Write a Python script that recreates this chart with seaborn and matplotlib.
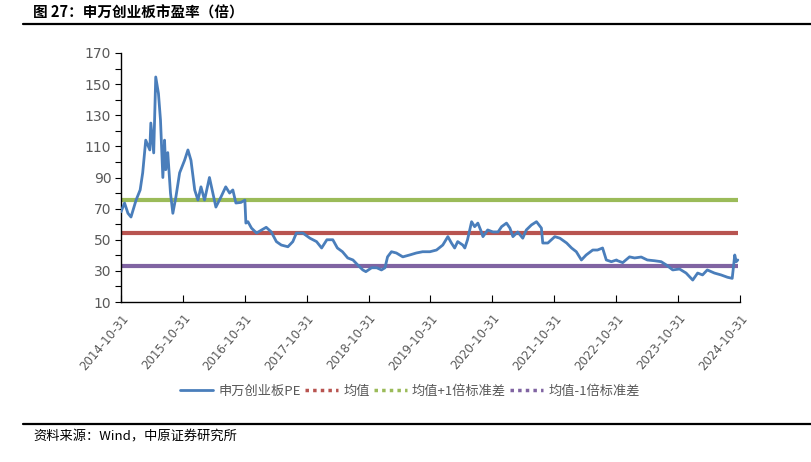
import matplotlib
matplotlib.use("Agg")
import matplotlib.pyplot as plt
from matplotlib.lines import Line2D
import seaborn as sns
import pandas as pd

dates = [
    "2014-10-31", "2014-11-21", "2014-12-11", "2014-12-29", "2015-01-28", "2015-02-21",
    "2015-03-08", "2015-03-26", "2015-04-19", "2015-04-25", "2015-05-12", "2015-05-24",
    "2015-06-09", "2015-06-21", "2015-07-05", "2015-07-15", "2015-07-22", "2015-08-03",
    "2015-08-19", "2015-09-02", "2015-09-20", "2015-10-12", "2015-11-10", "2015-11-30",
    "2015-12-18", "2016-01-09", "2016-01-28", "2016-02-15", "2016-03-07", "2016-04-05",
    "2016-04-25", "2016-05-13", "2016-06-12", "2016-07-10", "2016-08-02", "2016-08-21",
    "2016-09-08", "2016-10-08", "2016-10-31", "2016-11-06", "2016-11-18", "2016-12-09",
    "2017-01-08", "2017-02-07", "2017-03-06", "2017-04-05", "2017-05-05", "2017-06-03",
    "2017-07-12", "2017-08-10", "2017-08-31", "2017-10-08", "2017-11-19", "2017-12-28",
    "2018-01-27", "2018-02-27", "2018-04-03", "2018-04-30", "2018-05-30", "2018-06-30",
    "2018-07-31", "2018-08-28", "2018-09-27", "2018-10-15", "2018-11-18", "2018-12-18",
    "2019-01-15", "2019-02-05", "2019-02-20", "2019-03-15", "2019-04-13", "2019-05-21",
    "2019-06-30", "2019-08-09", "2019-09-15", "2019-10-28", "2019-12-06", "2020-01-12",
    "2020-02-11", "2020-03-03", "2020-03-22", "2020-04-09", "2020-05-09", "2020-05-21",
    "2020-06-06", "2020-06-30", "2020-07-18", "2020-08-06", "2020-08-27", "2020-09-05",
    "2020-10-03", "2020-11-03", "2020-12-03", "2020-12-24", "2021-01-22", "2021-02-11",
    "2021-03-01", "2021-03-29", "2021-04-28", "2021-05-19", "2021-06-18", "2021-07-18",
    "2021-08-16", "2021-08-24", "2021-09-23", "2021-11-03", "2021-12-03", "2022-01-12",
    "2022-02-10", "2022-03-10", "2022-04-09", "2022-05-07", "2022-06-15", "2022-07-13",
    "2022-08-12", "2022-09-03", "2022-10-03", "2022-11-02", "2022-11-09", "2022-12-09",
    "2023-01-18", "2023-02-17", "2023-03-28", "2023-05-03", "2023-06-15", "2023-07-24",
    "2023-08-23", "2023-09-30", "2023-11-09", "2023-12-18", "2024-01-26", "2024-02-24",
    "2024-03-24", "2024-04-21", "2024-06-02", "2024-07-11", "2024-08-18", "2024-09-15",
    "2024-09-30", "2024-10-09", "2024-10-18",
]
pe_values = [
    68, 73.6, 67, 64.6, 75.5, 82,
    93, 114, 107.7, 125, 105.8, 154.6,
    144, 127, 90, 114, 95, 106,
    80, 67, 77.5, 93, 101, 107.7,
    101, 82, 75.5, 84, 75.5, 90,
    80, 71, 77.5, 84, 80, 82,
    73.6, 74, 75.5, 60.7, 61.6, 57.5,
    54.3, 56.3, 58, 55, 48.8, 46.6,
    45.5, 48.8, 54.3, 54.3, 51, 48.8,
    44.7, 50, 50, 44.7, 42.3, 38.3,
    37, 33.8, 30.6, 29.5, 32, 32,
    30.6, 32, 39, 42.3, 41.5, 39,
    40.2, 41.5, 42.3, 42.3, 43.4, 46.6,
    52, 47.9, 44.7, 48.8, 46.6, 44.7,
    50, 61.6, 58.4, 60.7, 55, 52,
    56.3, 55, 55, 58.4, 60.7, 57.5,
    52, 55, 51, 56.3, 59.5, 61.6,
    57.5, 47.9, 47.9, 52, 51, 47.9,
    44.7, 42.3, 37, 40.2, 43.4, 43.4,
    44.7, 37, 35.9, 37, 36.5, 35.3,
    39, 38.3, 38.9, 37, 36.5, 35.9,
    33.8, 30.6, 31.2, 28.6, 24.1, 28.6,
    27.4, 30.6, 28.6, 27.4, 25.9, 25.2,
    40.2, 35.9, 37,
]
mean_value = 54.4
std_value = 21.1
tick_dates = ["2014-10-31", "2015-10-31", "2016-10-31", "2017-10-31", "2018-10-31",
              "2019-10-31", "2020-10-31", "2021-10-31", "2022-10-31", "2023-10-31",
              "2024-10-31"]
y_ticks = [10, 30, 50, 70, 90, 110, 130, 150, 170]
series_labels = ["申万创业板PE", "均值", "均值+1倍标准差", "均值-1倍标准差"]
title_text = "图 27：申万创业板市盈率（倍）"
source_text = "资料来源：Wind，中原证券研究所"

sns.set_theme(style="white")
plt.rcParams["font.family"] = ["Noto Sans CJK SC", "DejaVu Sans"]
plt.rcParams["axes.unicode_minus"] = False

c_pe = "#4a7ebb"
c_mean = "#b85450"
c_plus = "#9bbb59"
c_minus = "#8064a2"
gray = "#595959"

df = pd.DataFrame({"date": pd.to_datetime(dates), "pe": pe_values})
tick_dt = pd.to_datetime(tick_dates)

fig = plt.figure(figsize=(8.12, 4.62), dpi=100)
ax = fig.add_axes([121 / 812, 1 - 302 / 462, (740 - 121) / 812, (302 - 53) / 462])

lvl = [mean_value, mean_value + std_value, mean_value - std_value]
for val, col in zip(lvl, [c_mean, c_plus, c_minus]):
    ax.plot([tick_dt[0], df["date"].iloc[-1]], [val, val], color=col, lw=3.0,
            solid_capstyle="butt", zorder=2)
sns.lineplot(data=df, x="date", y="pe", ax=ax, color=c_pe, lw=2.0, zorder=3)

ax.set_xlim(tick_dt[0], tick_dt[-1])
ax.set_ylim(y_ticks[0], y_ticks[-1])
ax.set_yticks(y_ticks)
ax.set_yticks(list(range(y_ticks[0], y_ticks[-1] + 1, 10)), minor=True)
ax.set_xticks(tick_dt)
ax.set_xticklabels(tick_dates, rotation=50, ha="right", rotation_mode="anchor",
                   fontsize=8.5, color=gray, family="DejaVu Sans")
for lab in ax.get_yticklabels():
    lab.set_fontsize(10)
    lab.set_color(gray)
    lab.set_family("DejaVu Sans")
ax.set_xlabel("")
ax.set_ylabel("")
for s in ["top", "right"]:
    ax.spines[s].set_visible(False)
for s in ["left", "bottom"]:
    ax.spines[s].set_color("#000000")
    ax.spines[s].set_linewidth(1.0)
ax.tick_params(axis="y", which="both", direction="out", left=True, length=4, width=0.8,
               color="#000000", pad=3)
ax.tick_params(axis="x", which="major", direction="in", bottom=True, length=5, width=0.8,
               color="#000000", pad=7)
ax.grid(False)

handles = [
    Line2D([], [], color=c_pe, lw=2.0),
    Line2D([], [], color=c_mean, lw=2.5, ls=(0, (1, 1.2))),
    Line2D([], [], color=c_plus, lw=2.5, ls=(0, (1, 1.2))),
    Line2D([], [], color=c_minus, lw=2.5, ls=(0, (1, 1.2))),
]
leg = fig.legend(handles, series_labels, loc="center", bbox_to_anchor=(410 / 812, 1 - 391 / 462),
                 ncol=4, frameon=False, fontsize=9.5, handlelength=2.5, handletextpad=0.4,
                 columnspacing=0.3)
for t in leg.get_texts():
    t.set_color(gray)

fig.text(33 / 812, 1 - 13 / 462, title_text, fontsize=10.5, fontweight="bold",
         va="center", ha="left", color="#000000")
fig.add_artist(Line2D([23 / 812, 1.0], [1 - 24 / 462, 1 - 24 / 462], color="#000000", lw=1.6))
fig.add_artist(Line2D([23 / 812, 1.0], [1 - 424 / 462, 1 - 424 / 462], color="#000000", lw=1.6))
fig.text(33 / 812, 1 - 437 / 462, source_text, fontsize=9.5, va="center", ha="left",
         color="#000000")

fig.savefig("out.png", dpi=100)
